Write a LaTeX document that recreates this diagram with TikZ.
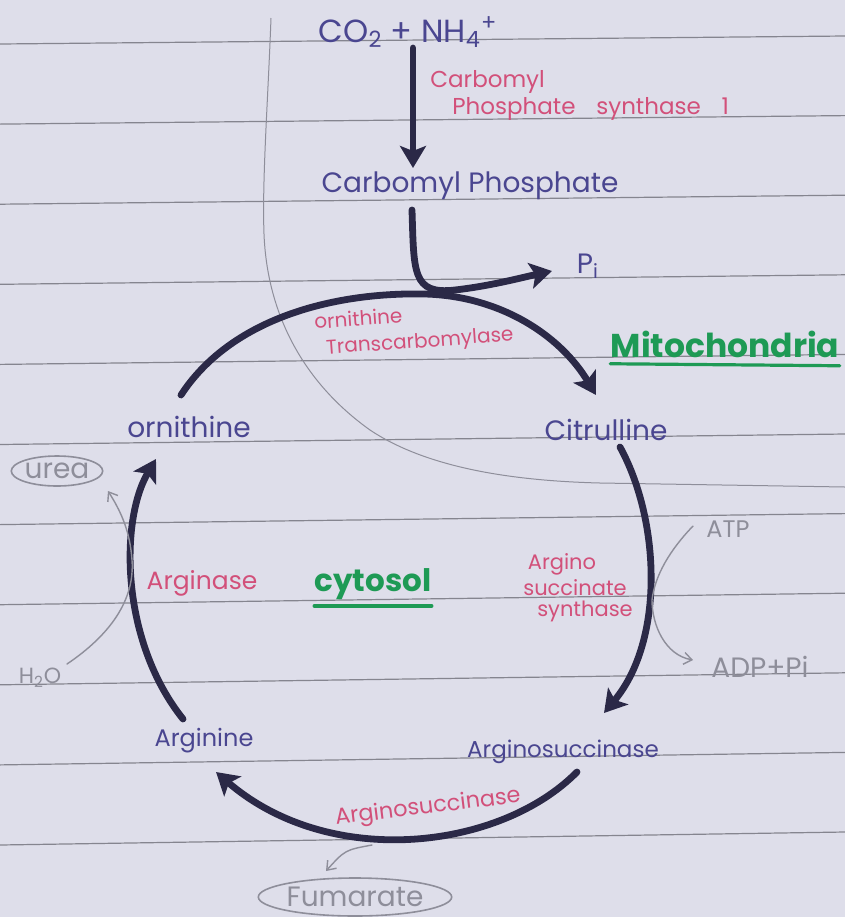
\documentclass[tikz,border=0pt]{standalone}
\usepackage{fontspec}
\setmainfont{Poppins}
\usetikzlibrary{arrows.meta,shapes.geometric}
\definecolor{paper}{HTML}{DEDEEA}
\definecolor{rulec}{HTML}{85858F}
\definecolor{ink}{HTML}{2B2947}
\definecolor{navytxt}{HTML}{4A4690}
\definecolor{redtxt}{HTML}{D2507A}
\definecolor{greentxt}{HTML}{1E9A55}
\definecolor{graytxt}{HTML}{8E8E9A}
\newcommand{\fsz}[1]{\fontsize{#1}{#1}\selectfont}
\begin{document}
\begin{tikzpicture}[x=0.5pt,y=-0.5pt,
  navy/.style={text=navytxt,inner sep=0pt},
  enz/.style={text=redtxt,inner sep=0pt},
  grn/.style={text=greentxt,inner sep=0pt,font=\bfseries\fsz{16.5}},
  side/.style={text=graytxt,inner sep=0pt},
  rulel/.style={draw=rulec,line width=0.6pt},
  bound/.style={draw=graytxt,line width=0.5pt},
  flow/.style={draw=ink,line width=3.4pt,line cap=round,-{Stealth[length=11pt,width=13pt,inset=2.5pt]}},
  thin/.style={draw=graytxt,line width=0.7pt,line cap=round,-{Straight Barb[length=4pt,width=6pt]}},
  uline/.style={draw=greentxt,line width=1.6pt,line cap=round}]
\useasboundingbox (0,0) rectangle (845,917);
\clip (0,0) rectangle (845,917);
\fill[paper] (0,0) rectangle (845,917);
\foreach \k in {0,...,10} \draw[rulel] (0,{44+80.1*\k}) -- (845,{36+79.6*\k});
\draw[bound] (271,18) .. controls (268,100) and (262,180) .. (264,234)
  .. controls (267,310) and (300,380) .. (370,430)
  .. controls (430,470) and (520,481) .. (600,483) -- (845,487);

% metabolites
\node[navy,font=\fsz{16}] (co2) at (408,32) {CO\textsubscript{2} + NH\textsubscript{4}\textsuperscript{+}};
\node[navy,font=\fsz{14}] (cp) at (470,186) {Carbomyl Phosphate};
\node[navy,font=\fsz{14}] (pi) at (588,266) {P\textsubscript{i}};
\node[navy,font=\fsz{14}] (orn) at (189,427) {ornithine};
\node[navy,font=\fsz{14}] (cit) at (606,430) {Citrulline};
\node[navy,font=\fsz{12}] (arg) at (204,741) {Arginine};
\node[navy,font=\fsz{11.5}] (asa) at (563,752) {Arginosuccinase};

% enzymes
\node[enz,font=\fsz{11.5},anchor=west] (cpsa) at (430,82) {Carbomyl};
\node[enz,font=\fsz{11.5},anchor=west] (cpsb) at (452,109) {Phosphate\hspace{0.9em}synthase\hspace{0.9em}1};
\node[enz,font=\fontsize{10}{13}\selectfont,align=left,rotate=4] (otc) at (414,330) {ornithine\\\hspace{0.5em}Transcarbomylase};
\node[enz,font=\fsz{12.5}] (argase) at (202,583) {Arginase};
\node[enz,font=\fsz{10.5}] (assa) at (562,564) {Argino};
\node[enz,font=\fsz{10.5}] (assb) at (575,588) {succinate};
\node[enz,font=\fsz{10.5}] (assc) at (585,611) {synthase};
\node[enz,font=\fsz{11.2},rotate=7] (asl) at (428,808) {Arginosuccinase};

% compartments
\node[grn] (mito) at (725,344) {Mitochondria};
\draw[uline] ([yshift=-3pt]mito.south west) -- ([yshift=-4pt]mito.south east);
\node[grn,font=\bfseries\fsz{15.5}] (cyto) at (373,584) {cytosol};
\draw[uline] ([yshift=-3pt]cyto.south west) -- ([yshift=-3pt]cyto.south east);

% side products
\node[side,font=\fsz{14},ellipse,draw=graytxt,line width=0.8pt,minimum width=44pt,minimum height=15pt] (urea) at (57,471) {urea};
\node[side,font=\fsz{11}] (h2o) at (40,678) {H\textsubscript{2}O};
\node[side,font=\fsz{12}] (atp) at (728,529) {ATP};
\node[side,font=\fsz{14}] (adp) at (760,667) {ADP+Pi};
\node[side,font=\fsz{14},ellipse,draw=graytxt,line width=0.8pt,minimum width=85pt,minimum height=19pt] (fum) at (355,897) {Fumarate};

% main flow
\draw[flow] ([xshift=2.5pt,yshift=-8pt]co2.center) -- ([xshift=-28.5pt,yshift=9pt]cp.center);
\draw[flow] ([xshift=-29pt,yshift=-12pt]cp.center) .. controls (414,272) and (412,295) .. (455,290)
  .. controls (490,286) and (520,278) .. ([xshift=-18pt,yshift=-2.5pt]pi.center);
% cycle
\draw[flow] ([xshift=-4pt,yshift=16pt]orn.center) .. controls (230,320) and (330,292) .. (425,294)
  .. controls (500,296) and (560,335) .. ([xshift=-5pt,yshift=17.5pt]cit.center);
\draw[flow] ([xshift=7pt,yshift=-8.5pt]cit.center) .. controls (660,520) and (665,640) .. ([xshift=20.5pt,yshift=19.5pt]asa.center);
\draw[flow] ([xshift=7pt,yshift=-10pt]asa.center) .. controls (500,850) and (330,870) .. ([xshift=6pt,yshift=-15.5pt]arg.center);
\draw[flow] ([xshift=-10.5pt,yshift=11pt]arg.center) .. controls (120,640) and (120,520) .. ([xshift=-16.5pt,yshift=-16pt]orn.center);

% side reactions
\draw[thin] ([xshift=13.5pt,yshift=7pt]h2o.center) .. controls (110,635) and (135,600) .. (132,560)
  .. controls (130,530) and (120,510) .. ([xshift=25.5pt,yshift=-10pt]urea.center);
\draw[thin] ([xshift=-17.5pt,yshift=1.5pt]atp.center) .. controls (670,550) and (655,575) .. (652,600)
  .. controls (652,625) and (665,655) .. ([xshift=-33.5pt,yshift=3.5pt]adp.center);
\draw[thin] (372,845) .. controls (345,850) .. ([xshift=-14.5pt,yshift=13pt]fum.center);
\end{tikzpicture}
\end{document}
